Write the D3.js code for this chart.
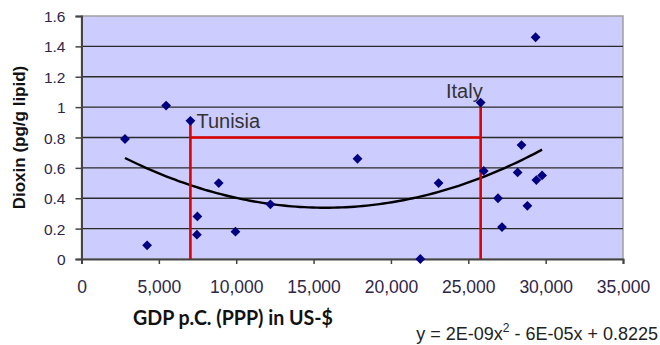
<!DOCTYPE html>
<html>
<head>
<meta charset="utf-8">
<script src="https://cdn.jsdelivr.net/npm/d3@7"></script>
<style>
  html, body { margin: 0; padding: 0; background: #fff; }
  svg { display: block; }
</style>
</head>
<body>
<svg id="chart" width="660" height="345"></svg>
<script>
// GDP per capita (PPP, US-$) and dioxin level in breast milk (pg/g lipid)
const gdp    = [2810, 4240, 5470, 7040, 7460, 7490, 8870, 9950, 12210, 17840, 21900,
                23080, 25800, 26000, 26920, 27180, 28190, 28440, 28820, 29400, 29770, 29350];
const dioxin = [0.79, 0.09, 1.01, 0.91, 0.16, 0.28, 0.50, 0.18, 0.36, 0.66, 0.00,
                0.50, 1.03, 0.58, 0.40, 0.21, 0.57, 0.75, 0.35, 0.52, 0.55, 1.46];

// Annotated countries (index into the arrays above)
const labelNames   = ["Tunisia", "Italy"];
const labelIndex   = [3, 12];
const bracketLevel = 0.8;

// Polynomial trendline y = a*x^2 + b*x + c
const trendCoef = [1.95e-9, -6.15e-5, 0.8225];

const xTicks = [0, 5000, 10000, 15000, 20000, 25000, 30000, 35000];
const yTicks = [0, 0.2, 0.4, 0.6, 0.8, 1, 1.2, 1.4, 1.6];

const xTitle = "GDP p.C. (PPP) in US-$";
const yTitle = "Dioxin (pg/g lipid)";

const svg = d3.select("#chart");
const plot = { left: 81.5, right: 623, top: 16, bottom: 259 };

const x = d3.scaleLinear().domain([0, 35000]).range([plot.left, plot.right]);
const y = d3.scaleLinear().domain([0, 1.6]).range([plot.bottom, plot.top]);

// Plot background
svg.append("rect")
  .attr("x", plot.left).attr("y", plot.top)
  .attr("width", plot.right - plot.left).attr("height", plot.bottom - plot.top)
  .attr("fill", "#ccccff")
  .attr("stroke", "#a0a0a0").attr("stroke-width", 1.5);

// Horizontal gridlines
svg.append("g").selectAll("line")
  .data(yTicks.filter(d => d > 0 && d < 1.6))
  .join("line")
  .attr("x1", plot.left).attr("x2", plot.right)
  .attr("y1", d => y(d)).attr("y2", d => y(d))
  .attr("stroke", "#2a2a2a").attr("stroke-width", 1.4);

// Axes
const tickColor = "#2e2648";
const yAxis = svg.append("g")
  .attr("transform", `translate(${plot.left},0)`)
  .call(d3.axisLeft(y).tickValues(yTicks).tickSize(6).tickFormat(d3.format("~g")));
yAxis.select(".domain").attr("stroke", "#444").attr("stroke-width", 2);
yAxis.selectAll(".tick line").attr("stroke", "#444").attr("stroke-width", 1.5);
yAxis.selectAll(".tick text")
  .attr("x", -16).attr("dy", "0.36em")
  .attr("fill", tickColor)
  .style("font-family", "'Liberation Sans', Arial, sans-serif")
  .style("font-size", "15.5px");

const xAxis = svg.append("g")
  .attr("transform", `translate(0,${plot.bottom})`)
  .call(d3.axisBottom(x).tickValues(xTicks).tickSize(5).tickFormat(d3.format(",")));
xAxis.select(".domain").attr("stroke", "#444").attr("stroke-width", 2);
xAxis.selectAll(".tick line").attr("stroke", "#444").attr("stroke-width", 1.5);
xAxis.selectAll(".tick text")
  .attr("y", 34).attr("dy", 0)
  .attr("fill", tickColor)
  .style("font-family", "'Liberation Sans', Arial, sans-serif")
  .style("font-size", "17.5px");

// Trendline over the data range
const [a, b, c] = trendCoef;
const [xmin, xmax] = d3.extent(gdp);
const trendPts = d3.range(0, 101).map(i => {
  const xv = xmin + (xmax - xmin) * i / 100;
  return [xv, a * xv * xv + b * xv + c];
});
svg.append("path")
  .datum(trendPts)
  .attr("fill", "none")
  .attr("stroke", "#000")
  .attr("stroke-width", 2.4)
  .attr("d", d3.line().x(d => x(d[0])).y(d => y(d[1])));

// Red bracket linking the annotated countries
const lx = labelIndex.map(i => gdp[i]);
const ly = labelIndex.map(i => dioxin[i]);
const bracket = svg.append("g").attr("stroke", "#dd0000").attr("stroke-width", 2.6).attr("fill", "none");
lx.forEach((xv, k) => {
  bracket.append("line")
    .attr("x1", x(xv)).attr("x2", x(xv))
    .attr("y1", y(0)).attr("y2", y(ly[k]));
});
bracket.append("line")
  .attr("x1", x(lx[0])).attr("x2", x(lx[1]))
  .attr("y1", y(bracketLevel)).attr("y2", y(bracketLevel));

// Data points (navy diamonds)
svg.append("g").selectAll("path")
  .data(gdp.map((g, i) => [g, dioxin[i]]))
  .join("path")
  .attr("transform", d => `translate(${x(d[0])},${y(d[1])}) rotate(45)`)
  .attr("d", d3.symbol().type(d3.symbolSquare).size(48))
  .attr("fill", "#000080");

// Country labels
const labelFont = "'Liberation Sans', Arial, sans-serif";
svg.append("text")
  .attr("x", x(lx[0]) + 6).attr("y", y(ly[0]) + 7.5)
  .attr("fill", "#333")
  .style("font-family", labelFont).style("font-size", "20px")
  .text(labelNames[0]);
svg.append("text")
  .attr("x", x(lx[1]) + 2).attr("y", y(ly[1]) - 4.5)
  .attr("text-anchor", "end")
  .attr("fill", "#333")
  .style("font-family", labelFont).style("font-size", "20px")
  .text(labelNames[1]);

// Axis titles
svg.append("text")
  .attr("transform", `translate(24.5,${(plot.top + plot.bottom) / 2}) rotate(-90)`)
  .attr("text-anchor", "middle")
  .attr("fill", "#111")
  .style("font-family", "'Liberation Sans', Arial, sans-serif")
  .style("font-weight", "bold").style("font-size", "17px")
  .text(yTitle);

svg.append("text")
  .attr("x", 133).attr("y", 325)
  .attr("textLength", 200).attr("lengthAdjust", "spacingAndGlyphs")
  .attr("fill", "#111")
  .style("font-family", "Lato, 'Open Sans', sans-serif")
  .style("font-weight", "bold").style("font-size", "20px")
  .text(xTitle);

// Trendline equation, formatted in the spreadsheet style
function fmtSci(v) {
  const e = Math.floor(Math.log10(Math.abs(v)));
  let m = Math.round(Math.abs(v) / Math.pow(10, e));
  let ee = e;
  if (m >= 10) { m = 1; ee += 1; }
  return m + "E" + (ee < 0 ? "-" : "+") + String(Math.abs(ee)).padStart(2, "0");
}
function fmtCoef(v) {
  return Math.abs(v) < 0.001 ? fmtSci(v) : Math.abs(v).toFixed(4);
}
const sign = v => (v < 0 ? " - " : " + ");
const eq = svg.append("text")
  .attr("x", 658).attr("y", 339.5)
  .attr("text-anchor", "end")
  .attr("fill", "#222")
  .style("font-family", "'Liberation Sans', Arial, sans-serif")
  .style("font-size", "18px");
eq.append("tspan").text("y = " + (a < 0 ? "-" : "") + fmtCoef(a) + "x");
eq.append("tspan").attr("dy", -7.5).style("font-size", "12px").text("2");
eq.append("tspan").attr("dy", 7.5).text(sign(b) + fmtCoef(b) + "x" + sign(c) + fmtCoef(c));
</script>
</body>
</html>
